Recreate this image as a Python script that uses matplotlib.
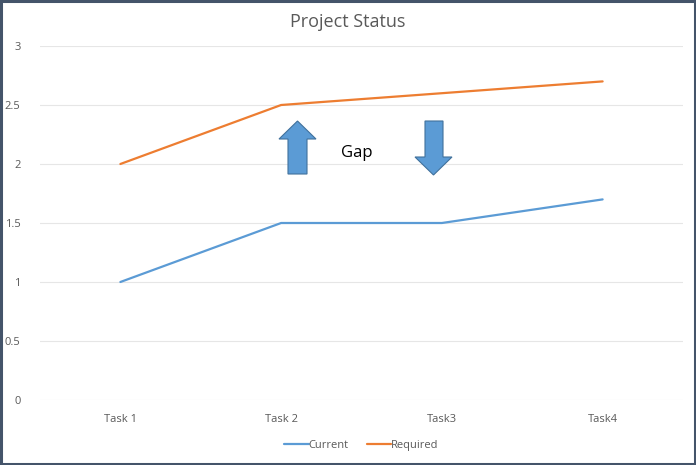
import matplotlib
matplotlib.use("Agg")
import matplotlib.pyplot as plt
from matplotlib.patches import Polygon, Rectangle

plt.rcParams['font.family'] = ['Open Sans', 'DejaVu Sans']

categories = ["Task 1", "Task 2", "Task3", "Task4"]
current = [1.0, 1.5, 1.5, 1.7]
required = [2.0, 2.5, 2.6, 2.7]
yticks = [0, 0.5, 1, 1.5, 2, 2.5, 3]
ytick_labels = ["0", "0.5", "1", "1.5", "2", "2.5", "3"]

W, H = 696, 465
fig = plt.figure(figsize=(W / 100, H / 100), dpi=100)
ax = fig.add_axes([40 / W, (H - 400) / H, (683 - 40) / W, (400 - 46) / H])

x = list(range(len(categories)))
blue = "#5B9BD5"
orange = "#ED7D31"
ax.plot(x, current, color=blue, lw=1.6, label="Current", solid_capstyle="round")
ax.plot(x, required, color=orange, lw=1.6, label="Required", solid_capstyle="round")

ax.set_xlim(-0.5, 3.5)
ax.set_ylim(0, 3)
ax.set_yticks(yticks)
ax.set_yticklabels(ytick_labels)
ax.set_xticks(x)
ax.set_xticklabels(categories)
ax.grid(axis="y", color="#E6E6E6", lw=0.8)
ax.set_axisbelow(True)
for s in ax.spines.values():
    s.set_visible(False)
ax.tick_params(length=0, colors="#595959", labelsize=8)
ax.tick_params(axis="y", pad=14)
ax.tick_params(axis="x", pad=10)

# arrows (pixel -> data)
def px(xp, yp):
    return ((xp - 40) / 160.75 - 0.5, (400 - yp) / 118.0)

up = [px(288, 174), px(307, 174), px(307, 139), px(316, 139), px(297.5, 121),
      px(279, 139), px(288, 139)]
down = [px(425, 121), px(443, 121), px(443, 157), px(452, 157), px(433.5, 175),
        px(415, 157), px(425, 157)]
for pts in (up, down):
    ax.add_patch(Polygon(pts, closed=True, facecolor=blue, edgecolor="#41719C",
                         lw=0.8, zorder=5))

ax.text(*px(357, 153), "Gap", fontsize=12, ha="center", va="center", color="black")

fig.text(348 / W, 1 - 22 / H, "Project Status", ha="center", va="center",
         fontsize=13, color="#595959")

leg = ax.legend(loc="center", bbox_to_anchor=(0.5, -(445 - 400) / 354), ncol=2,
                frameon=False, fontsize=8, handlelength=2.2, handletextpad=0.0,
                columnspacing=1.6)
for t in leg.get_texts():
    t.set_color("#595959")

fig.patches.append(Rectangle((1 / W, 1 / H), 1 - 2 / W, 1 - 2 / H, transform=fig.transFigure,
                             fill=False, edgecolor="#44546A", lw=2.2))

fig.savefig("out.png", dpi=100)
